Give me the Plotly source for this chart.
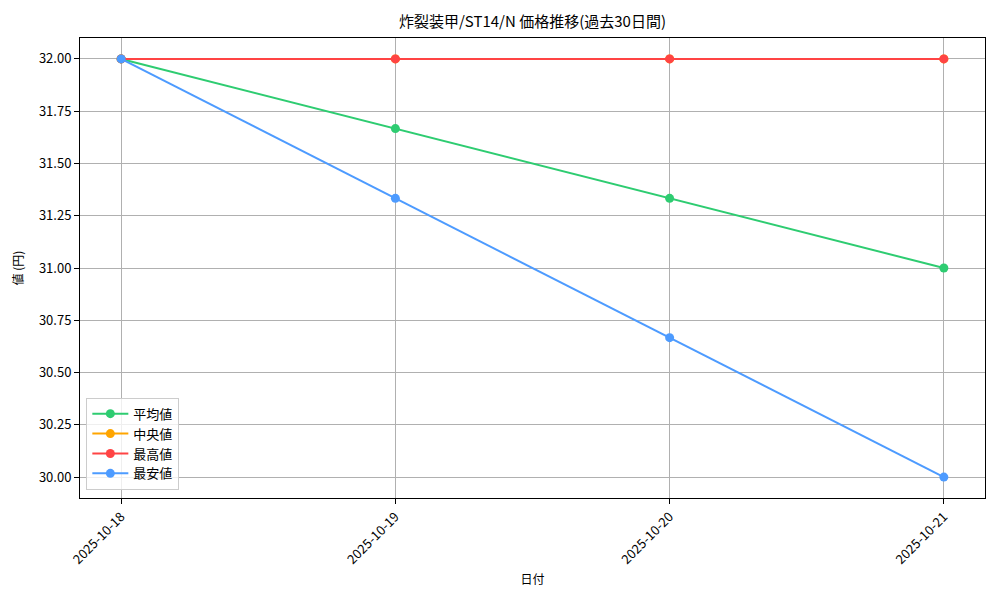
import plotly.graph_objects as go

# 価格データ
dates = ["2025-10-18", "2025-10-19", "2025-10-20", "2025-10-21"]
avg_prices = [32.0, 31.6667, 31.3333, 31.0]
median_prices = [32.0, 32.0, 32.0, 32.0]
max_prices = [32.0, 32.0, 32.0, 32.0]
min_prices = [32.0, 31.3333, 30.6667, 30.0]

series = [
    ("平均値", avg_prices, "#2ecc71"),
    ("中央値", median_prices, "#ffa500"),
    ("最高値", max_prices, "#ff4444"),
    ("最安値", min_prices, "#4d9bff"),
]

FONT = "Noto Sans CJK JP"

fig = go.Figure()
for name, vals, color in series:
    fig.add_trace(go.Scatter(
        x=dates, y=vals, name=name, mode="lines+markers",
        line=dict(color=color, width=2),
        marker=dict(color=color, size=9),
    ))

# ページ余白(8px)を考慮してマージンを調整
fig.update_layout(
    width=1000, height=600,
    font=dict(family=FONT, size=12, color="black"),
    paper_bgcolor="white", plot_bgcolor="white",
    margin=dict(l=72, r=23, t=30, b=110),
    title=dict(text="炸裂装甲/ST14/N 価格推移(過去30日間)", xref="paper", x=0.5, xanchor="center",
               y=0.977, yanchor="middle", font=dict(size=15)),
    legend=dict(x=0.007, y=0.018, xanchor="left", yanchor="bottom",
                bgcolor="rgba(255,255,255,0.8)", bordercolor="#cccccc", borderwidth=1,
                font=dict(size=13), itemwidth=36, tracegroupgap=0),
    showlegend=True,
)

fig.update_xaxes(
    type="category", range=[-0.15, 3.15], automargin=False,
    title=dict(text="日付", font=dict(size=12), standoff=8),
    tickangle=-45, ticks="outside", ticklen=5, tickcolor="black",
    showgrid=True, gridcolor="#b0b0b0", gridwidth=1,
    showline=True, linecolor="black", linewidth=1, mirror=True,
    tickfont=dict(size=13), zeroline=False,
)
fig.update_yaxes(
    range=[29.9, 32.1], automargin=False,
    tickvals=[30.0, 30.25, 30.5, 30.75, 31.0, 31.25, 31.5, 31.75, 32.0],
    tickformat=".2f",
    title=dict(text="値 (円)", font=dict(size=12), standoff=12),
    ticks="outside", ticklen=5, tickcolor="black",
    showgrid=True, gridcolor="#b0b0b0", gridwidth=1,
    showline=True, linecolor="black", linewidth=1, mirror=True,
    tickfont=dict(size=13), zeroline=False,
)

fig.write_html("out.html")
